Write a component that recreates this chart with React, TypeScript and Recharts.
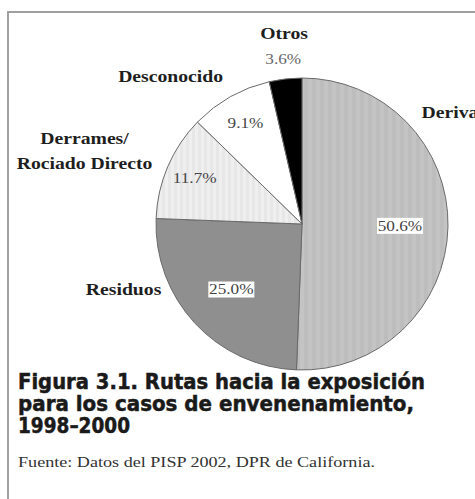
import React from "react";
import { PieChart, Pie, Cell } from "recharts";

const categories = ["Deriva", "Residuos", "Derrames/\nRociado Directo", "Desconocido", "Otros"];
const shares = [50.6, 25.0, 11.7, 9.1, 3.6];
const percentLabels = ["50.6%", "25.0%", "11.7%", "9.1%", "3.6%"];
const titleLines = [
  "Figura 3.1. Rutas hacia la exposición",
  "para los casos de envenenamiento,",
  "1998–2000",
];
const sourceNote = "Fuente: Datos del PISP 2002, DPR de California.";

const data = categories.map((name, i) => ({ name, value: shares[i], pct: percentLabels[i] }));

const fills = ["url(#stripeDeriva)", "#8f8f8f", "url(#stripeDerrames)", "#ffffff", "#000000"];

// label layout: polar angle (deg) and radius factor of outer radius
const nameLayout = [
  { angle: 43.0, r: 1.12, anchor: "start" },
  { angle: -159.7, r: 1.303, anchor: "middle" },
  { angle: 161.6, r: 1.57, anchor: "middle" },
  { angle: 131.7, r: 1.353, anchor: "middle" },
  { angle: 95.4, r: 1.307, anchor: "middle" },
];
const pctLayout = [
  { r: 0.671, box: true },
  { r: 0.66, box: true },
  { r: 0.8, box: false },
  { r: 0.79, box: false },
  { r: 1.137, box: false },
];

const RAD = Math.PI / 180;
const SX = 1.23;

function renderLabel(props: any) {
  const { cx, cy, midAngle, outerRadius, index } = props;
  const nl = nameLayout[index];
  const pl = pctLayout[index];
  const na = nl.angle;
  const nx = cx + outerRadius * nl.r * Math.cos(-na * RAD);
  const ny = cy + outerRadius * nl.r * Math.sin(-na * RAD);
  const px = cx + outerRadius * pl.r * Math.cos(-midAngle * RAD);
  const py = cy + outerRadius * pl.r * Math.sin(-midAngle * RAD);
  const lines = String(categories[index]).split("\n");
  const lh = 25;
  return (
    <g key={"lbl" + index}>
      {lines.map((ln, k) => (
        <text
          key={k}
          transform={`translate(${nx},${ny + (k - (lines.length - 1) / 2) * lh}) scale(${SX},1)`}
          x={0}
          y={0}
          textAnchor={nl.anchor as any}
          dominantBaseline="central"
          fontFamily="'Liberation Serif', 'Times New Roman', serif"
          fontWeight="bold"
          fontSize={16}
          fill="#1e1e1e"
        >
          {ln}
        </text>
      ))}
      {pl.box && <rect x={px - 23} y={py - 8} width={46} height={16} fill="#ffffff" />}
      <text
        transform={`translate(${px},${py}) scale(${SX},1)`}
        x={0}
        y={0}
        textAnchor="middle"
        dominantBaseline="central"
        fontFamily="'Liberation Serif', 'Times New Roman', serif"
        fontSize={14}
        fill={index === 4 ? "#666" : "#444"}
      >
        {percentLabels[index]}
      </text>
    </g>
  );
}

export default function App() {
  return (
    <div
      style={{
        position: "absolute",
        left: 0,
        top: 0,
        width: 475,
        height: 499,
        overflow: "hidden",
        background: "#ffffff",
      }}
    >
      <svg width={475} height={499} style={{ position: "absolute", left: 0, top: 0 }}>
        <line x1={7} y1={12} x2={475} y2={12} stroke="#a0a0a0" strokeWidth={2} />
        <line x1={8} y1={11} x2={8} y2={499} stroke="#a0a0a0" strokeWidth={2} />
        {titleLines.map((t, i) => (
          <text
            key={i}
            x={18}
            y={389 + i * 22}
            fontFamily="'DejaVu Sans', sans-serif"
            fontWeight="bold"
            fontSize={20.5}
            fill="#1a1a1a"
            stroke="#1a1a1a"
            strokeWidth={0.5}
            textLength={i === 0 ? 407 : i === 1 ? 396 : 112}
            lengthAdjust="spacingAndGlyphs"
          >
            {t}
          </text>
        ))}
        <text
          x={18}
          y={467}
          fontFamily="'Liberation Serif', 'Times New Roman', serif"
          fontSize={14}
          fill="#333333"
          textLength={357}
          lengthAdjust="spacingAndGlyphs"
        >
          {sourceNote}
        </text>
      </svg>
      <div style={{ position: "absolute", left: 0, top: 0 }}>
        <PieChart width={475} height={499} margin={{ top: 0, right: 0, bottom: 0, left: 0 }}>
          <defs>
            <pattern id="stripeDeriva" patternUnits="userSpaceOnUse" width={8} height={8}>
              <rect width={8} height={8} fill="#c4c4c4" />
              <rect width={4} height={8} fill="#bdbdbd" />
            </pattern>
            <pattern id="stripeDerrames" patternUnits="userSpaceOnUse" width={6} height={6}>
              <rect width={6} height={6} fill="#efefef" />
              <rect width={3} height={6} fill="#e7e7e7" />
            </pattern>
          </defs>
          <Pie
            data={data}
            dataKey="value"
            nameKey="name"
            cx={302}
            cy={224}
            outerRadius={146}
            innerRadius={0}
            startAngle={90}
            endAngle={-270}
            stroke="#6a6a6a"
            strokeWidth={1}
            label={renderLabel}
            labelLine={false}
            isAnimationActive={false}
          >
            {data.map((d, i) => (
              <Cell key={d.name} fill={fills[i]} />
            ))}
          </Pie>
        </PieChart>
      </div>
    </div>
  );
}
